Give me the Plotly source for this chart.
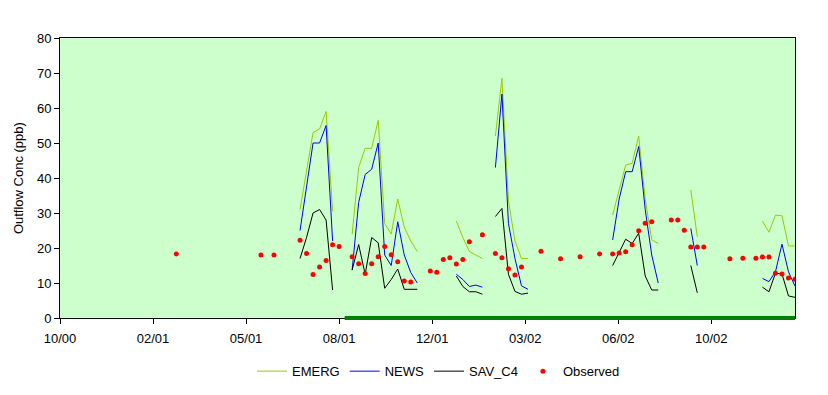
import plotly.graph_objects as go

# ---- data (weekly model output, gaps separate simulation windows) ----
model_dates = [
    "2001-07-16", "2001-07-23", "2001-07-30", "2001-08-06", "2001-08-13", "2001-08-20",
    "2001-08-27",
    "2001-09-10", "2001-09-17", "2001-09-24", "2001-10-01", "2001-10-08", "2001-10-15",
    "2001-10-22", "2001-10-29", "2001-11-05", "2001-11-12", "2001-11-19",
    "2001-11-26",
    "2001-12-31", "2002-01-07", "2002-01-14", "2002-01-21", "2002-01-28",
    "2002-02-04",
    "2002-02-11", "2002-02-18", "2002-02-25", "2002-03-04", "2002-03-11", "2002-03-18",
    "2002-03-25",
    "2002-06-17", "2002-06-24", "2002-07-01", "2002-07-08", "2002-07-15", "2002-07-22",
    "2002-07-29", "2002-08-05",
    "2002-08-12",
    "2002-09-09", "2002-09-16",
    "2002-09-23",
    "2002-11-25", "2002-12-02", "2002-12-09", "2002-12-16", "2002-12-23", "2002-12-30",
]

emerg = [
    31, 42, 53, 54, 59, 30.5,
    None,
    24, 43, 48.5, 48.5, 56.5, 27, 24, 34, 26, 22, 19,
    None,
    27.7, 23, 19, 18, 17,
    None,
    52, 68.5, 33.5, 22, 17, 17,
    None,
    29.4, 37, 43.7, 44.2, 52, 34, 22.3, 21.3,
    None,
    36.6, 23.2,
    None,
    27.7, 24.5, 29.4, 29.2, 20.6, 20.6,
]

news = [
    25, 38, 50, 50, 55, 22,
    None,
    13.7, 33, 41, 42.5, 50, 18, 15, 27.5, 18, 13, 10,
    None,
    12.5, 11, 9, 9.4, 8.8,
    None,
    43, 64, 27, 17, 9.2, 8.2,
    None,
    22.3, 34, 41.8, 41.8, 49, 31, 18, 10,
    None,
    25.6, 15,
    None,
    11.3, 10.4, 13.2, 21.1, 13.2, 9.1,
]

sav_c4 = [
    17, 23, 30, 31, 28, 8,
    None,
    13.7, 21, 12.5, 23, 21.5, 8.5, 11, 14, 8.2, 8.2, 8.2,
    None,
    12, 9, 7.5, 7.5, 6.8,
    None,
    29, 31.3, 12.5, 7.6, 6.8, 7.1,
    None,
    15, 19, 22.5, 21.3, 24.2, 12, 8, 8,
    None,
    15, 7.2,
    None,
    8.8, 7.5, 12.8, 12.6, 6.3, 5.9,
]

obs_dates = [
    "2001-03-05", "2001-06-04", "2001-06-18",
    "2001-07-16", "2001-07-23", "2001-07-30", "2001-08-06", "2001-08-13", "2001-08-20", "2001-08-27",
    "2001-09-10", "2001-09-17", "2001-09-24", "2001-10-01", "2001-10-08", "2001-10-15",
    "2001-10-22", "2001-10-29", "2001-11-05", "2001-11-12",
    "2001-12-03", "2001-12-10", "2001-12-17", "2001-12-24", "2001-12-31", "2002-01-07", "2002-01-14",
    "2002-01-28",
    "2002-02-11", "2002-02-18", "2002-02-25", "2002-03-04", "2002-03-11",
    "2002-04-01", "2002-04-22", "2002-05-13", "2002-06-03",
    "2002-06-17", "2002-06-24", "2002-07-01", "2002-07-08", "2002-07-15", "2002-07-22", "2002-07-29",
    "2002-08-19", "2002-08-26", "2002-09-02", "2002-09-09", "2002-09-16", "2002-09-23",
    "2002-10-21", "2002-11-04",
    "2002-11-18", "2002-11-25", "2002-12-02", "2002-12-09", "2002-12-16", "2002-12-23", "2002-12-30",
]
observed = [
    18.3, 18, 18,
    22.2, 18.4, 12.4, 14.6, 16.4, 20.9, 20.4,
    17.5, 15.5, 12.7, 15.5, 17.5, 20.4,
    18.1, 16.1, 10.6, 10.3,
    13.4, 13.1, 16.7, 17.2, 15.4, 16.7, 21.8,
    23.8,
    18.4, 17.2, 14.1, 12.3, 14.6,
    19.1, 16.9, 17.5, 18.3,
    18.3, 18.6, 18.9, 20.9, 24.9, 27.1, 27.5,
    28, 28, 25.1, 20.3, 20.3, 20.3,
    16.9, 17.1,
    17.1, 17.4, 17.4, 12.8, 12.6, 11.4, 11.1,
]

baseline_span = ["2001-09-02", "2002-12-31"]
x_range = ["2000-10-31", "2002-12-30"]
tick_start = "2000-10-31"
tick_days = 100

FONT = "Liberation Sans, Arial, sans-serif"

fig = go.Figure()
fig.add_trace(go.Scatter(x=model_dates, y=emerg, name="EMERG", mode="lines",
                         line=dict(color="#99CC00", width=1)))
fig.add_trace(go.Scatter(x=model_dates, y=news, name="NEWS", mode="lines",
                         line=dict(color="#0000FF", width=1)))
fig.add_trace(go.Scatter(x=model_dates, y=sav_c4, name="SAV_C4", mode="lines",
                         line=dict(color="#000000", width=1)))
fig.add_trace(go.Scatter(x=obs_dates, y=observed, name="Observed", mode="markers",
                         marker=dict(color="#FF0000", size=5, symbol="circle")))

fig.add_shape(type="line", xref="x", yref="paper",
              x0=baseline_span[0], x1=baseline_span[1], y0=0, y1=0,
              line=dict(color="#008000", width=4), layer="above")

fig.add_annotation(text="Outflow Conc (ppb)", xref="paper", yref="paper",
                   x=-0.057, y=0.5, xanchor="center", yanchor="middle",
                   textangle=-90, showarrow=False,
                   font=dict(family=FONT, size=13, color="black"))

# page body adds an 8px offset, so the figure is sized to fit the 828x395 window
fig.update_layout(
    width=820, height=390,
    margin=dict(l=52, r=33, t=30, b=77),
    paper_bgcolor="white",
    plot_bgcolor="#CCFFCC",
    font=dict(family=FONT, size=13, color="black"),
    showlegend=True,
    legend=dict(orientation="h", x=0.515, xanchor="center", y=-0.19, yanchor="middle",
                font=dict(family=FONT, size=13), bgcolor="rgba(0,0,0,0)",
                itemwidth=30),
    xaxis=dict(type="date", range=x_range, tick0=tick_start, dtick=tick_days * 86400000,
               tickformat="%m/%y", showgrid=False, zeroline=False,
               showline=True, linecolor="black", linewidth=1, mirror=True,
               ticks="outside", ticklen=5, tickcolor="black", ticklabelstandoff=3,
               tickfont=dict(family=FONT, size=13)),
    yaxis=dict(range=[0, 80], dtick=10, showgrid=False, zeroline=False,
               showline=True, linecolor="black", linewidth=1, mirror=True,
               ticks="outside", ticklen=5, tickcolor="black",
               tickfont=dict(family=FONT, size=13)),
)

fig.write_html("out.html")
